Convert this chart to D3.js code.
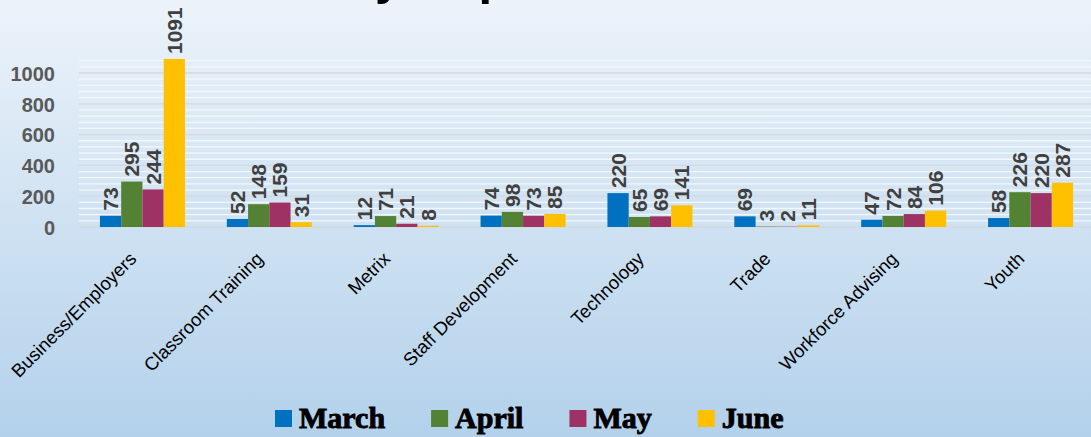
<!DOCTYPE html>
<html>
<head>
<meta charset="utf-8">
<script src="https://cdn.jsdelivr.net/npm/d3@7"></script>
<style>
  body { margin: 0; }
  svg { display: block; }
</style>
</head>
<body>
<svg id="chart" width="1091" height="437"></svg>
<script>
const categories = ['Business/Employers', 'Classroom Training', 'Metrix', 'Staff Development',
                    'Technology', 'Trade', 'Workforce Advising', 'Youth'];
const months = ['March', 'April', 'May', 'June'];
const march = [73, 52, 12, 74, 220, 69, 47, 58];
const april = [295, 148, 71, 98, 65, 3, 72, 226];
const may = [244, 159, 21, 73, 69, 2, 84, 220];
const june = [1091, 31, 8, 85, 141, 11, 106, 287];
const colors = ['#0070c0', '#548235', '#9e3264', '#ffc000'];
const yTicks = [0, 200, 400, 600, 800, 1000];
const title = 'Monthly Report';

const series = [march, april, may, june];
const svg = d3.select('#chart');
const W = 1091, H = 437;

// background gradient
const defs = svg.append('defs');
const grad = defs.append('linearGradient')
    .attr('id', 'bg').attr('x1', 0).attr('y1', 0).attr('x2', 0).attr('y2', 1);
grad.append('stop').attr('offset', '0%').attr('stop-color', '#ecf3fa');
grad.append('stop').attr('offset', '100%').attr('stop-color', '#b3d1eb');
svg.append('rect').attr('width', W).attr('height', H).attr('fill', 'url(#bg)');

const x = d3.scaleBand().domain(categories).range([79, 1094]);
const groupW = 85;
const xi = d3.scaleBand().domain(months).range([0, groupW]);
const y = d3.scaleLinear().domain([0, 1000]).range([227, 73]);

// title, mostly above the visible area (only descenders show)
svg.append('text')
    .attr('x', 394).attr('y', -6)
    .attr('text-anchor', 'middle')
    .attr('font-family', 'Liberation Sans, Arial, sans-serif')
    .attr('font-weight', 'bold')
    .attr('font-size', 49)
    .attr('fill', '#000')
    .text(title);

// minor white gridlines every 40 and major gray ones every 200
const minor = d3.range(40, 1081, 40).filter(v => v % 200 !== 0);
svg.append('g').selectAll('line').data(minor).enter().append('line')
    .attr('x1', 79).attr('x2', W)
    .attr('y1', d => y(d)).attr('y2', d => y(d))
    .attr('stroke', '#f4f7fa').attr('stroke-width', 1.3);
svg.append('g').selectAll('line').data(yTicks).enter().append('line')
    .attr('x1', 79).attr('x2', W)
    .attr('y1', d => y(d)).attr('y2', d => y(d))
    .attr('stroke', '#d4d8dc').attr('stroke-width', 1.3);

// y axis labels
const yAxis = svg.append('g')
    .attr('transform', 'translate(55,0)')
    .call(d3.axisLeft(y).tickValues(yTicks).tickFormat(d3.format('d')).tickSize(0).tickPadding(0));
yAxis.select('.domain').remove();
yAxis.selectAll('text')
    .attr('font-family', 'Liberation Sans, Arial, sans-serif')
    .attr('font-weight', 'bold')
    .attr('font-size', 20)
    .attr('fill', '#595959')
    .attr('dy', '0.36em');

// bars
const groups = svg.append('g').selectAll('g').data(categories).enter().append('g')
    .attr('transform', d => 'translate(' + (x(d) + x.bandwidth() / 2 - groupW / 2) + ',0)');

const cells = (c, i) => months.map((m, j) => ({ m: m, v: series[j][i], j: j }));

groups.selectAll('rect')
    .data(cells)
    .enter().append('rect')
    .attr('x', d => xi(d.m))
    .attr('width', xi.bandwidth())
    .attr('y', d => y(d.v))
    .attr('height', d => y(0) - y(d.v))
    .attr('fill', d => colors[d.j]);

// data labels
groups.selectAll('text')
    .data(cells)
    .enter().append('text')
    .attr('transform', d => 'translate(' + (xi(d.m) + xi.bandwidth() / 2 + 7.5) + ',' + (y(d.v) - 5) + ') rotate(-90)')
    .attr('font-family', 'Liberation Sans, Arial, sans-serif')
    .attr('font-weight', 'bold')
    .attr('font-size', 21)
    .attr('fill', '#404040')
    .text(d => d.v);

// category labels
svg.append('g').selectAll('text').data(categories).enter().append('text')
    .attr('transform', d => 'translate(' + (x(d) + x.bandwidth() / 2 - 5) + ',260) rotate(-45)')
    .attr('text-anchor', 'end')
    .attr('font-family', 'Liberation Sans, Arial, sans-serif')
    .attr('font-size', 18.5)
    .attr('fill', '#000')
    .text(d => d);

// legend
const legend = svg.append('g').attr('transform', 'translate(275,0)');
let lx = 0;
months.forEach((m, i) => {
    const item = legend.append('g').attr('transform', 'translate(' + lx + ',410)');
    item.append('rect')
        .attr('width', 17).attr('height', 17)
        .attr('fill', colors[i]);
    const t = item.append('text')
        .attr('x', 24).attr('y', 18)
        .attr('font-family', 'Liberation Serif, serif')
        .attr('font-weight', 'bold')
        .attr('font-size', 30)
        .attr('fill', '#000')
        .attr('stroke', '#000').attr('stroke-width', 0.9)
        .text(m);
    lx += 24 + t.node().getComputedTextLength() + 46;
});
</script>
</body>
</html>
